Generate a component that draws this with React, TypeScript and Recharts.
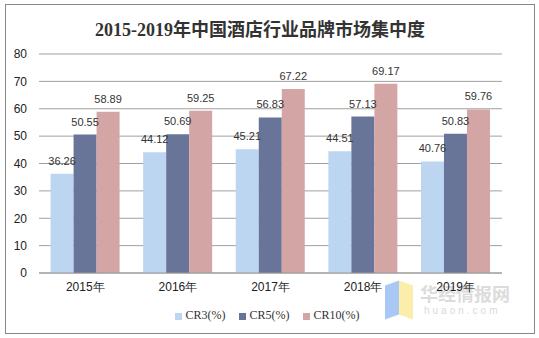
import React from "react";
import {
    BarChart,
    Bar,
    XAxis,
    YAxis,
    CartesianGrid,
    Legend,
    LabelList,
} from "recharts";

const years = ["2015年", "2016年", "2017年", "2018年", "2019年"];
const cr3 = [36.26, 44.12, 45.21, 44.51, 40.76];
const cr5 = [50.55, 50.69, 56.83, 57.13, 50.83];
const cr10 = [58.89, 59.25, 67.22, 69.17, 59.76];
const yTicks = [0, 10, 20, 30, 40, 50, 60, 70, 80];
const boundaryTicks = [0, 1, 2, 3, 4, 5];
const seriesOrder = ["cr3", "cr5", "cr10"];

const data = years.map((year, i) => ({
    year,
    cr3: cr3[i],
    cr5: cr5[i],
    cr10: cr10[i],
}));

const labelStyle = { fontSize: 11, fill: "#333", fontFamily: "'Liberation Sans', Arial, sans-serif" };

export default function App() {
    return (
        <div
            style={{
                position: "absolute",
                left: 0,
                top: 0,
                width: 539,
                height: 338,
                background: "#fff",
                fontFamily: "'Liberation Sans', Arial, sans-serif",
            }}
        >
            <div
                style={{
                    position: "absolute",
                    left: 5,
                    top: 4,
                    width: 528,
                    height: 328,
                    border: "1.5px solid #888",
                }}
            />
            <div
                style={{
                    position: "absolute",
                    left: 0,
                    width: 520,
                    top: 15,
                    textAlign: "center",
                    fontSize: 18,
                    fontWeight: "bold",
                    color: "#333",
                    fontFamily: "'Liberation Serif', 'Noto Sans CJK SC', serif",
                }}
            >
                2015-2019年中国酒店行业品牌市场集中度
            </div>

            {/* watermark */}
            <div style={{ position: "absolute", left: 385, top: 283, width: 14, height: 34, background: "#a9c8f5", transform: "skewY(-20deg)" }} />
            <div style={{ position: "absolute", left: 399, top: 283, width: 14, height: 34, background: "#fbeeaa", transform: "skewY(20deg)" }} />
            <div
                style={{
                    position: "absolute",
                    left: 420,
                    top: 284,
                    fontSize: 18,
                    lineHeight: 1,
                    fontWeight: "bold",
                    color: "#dcdcdc",
                    fontFamily: "'Noto Sans CJK SC', sans-serif",
                }}
            >
                华经情报网
            </div>
            <div
                style={{
                    position: "absolute",
                    left: 424,
                    top: 306,
                    fontSize: 10,
                    lineHeight: 1,
                    letterSpacing: 3,
                    color: "#d9d9d9",
                }}
            >
                huaon.com
            </div>

            <div style={{ position: "absolute", left: 0, top: 0 }}>
                <BarChart
                    width={539}
                    height={338}
                    data={data}
                    margin={{ top: 54, right: 37, bottom: 0, left: 0 }}
                    barCategoryGap="12.5%"
                    barGap={0}
                >
                    <CartesianGrid vertical={false} stroke="#a0a0a0" xAxisId="b_cat" />
                    <XAxis
                        xAxisId="a_edge"
                        type="number"
                        domain={[0, 5]}
                        ticks={boundaryTicks}
                        tick={false}
                        height={5}
                        tickSize={5}
                        axisLine={{ stroke: "#999" }}
                        tickLine={{ stroke: "#999" }}
                    />
                    <XAxis
                        xAxisId="b_cat"
                        dataKey="year"
                        axisLine={false}
                        tickLine={false}
                        height={45}
                        tickMargin={0}
                        tick={{ fontSize: 12, fill: "#222", dy: -2 }}
                    />
                    <YAxis
                        width={39}
                        domain={[0, 80]}
                        ticks={yTicks}
                        axisLine={false}
                        tickLine={false}
                        tick={{ fontSize: 12, fill: "#222", dx: -4 }}
                    />
                    <Legend
                        verticalAlign="bottom"
                        iconType="square"
                        iconSize={7}
                        itemSorter={(item: any) => seriesOrder.indexOf(item.dataKey)}
                        wrapperStyle={{
                            top: 308,
                            left: 4,
                            width: 539,
                            fontSize: 12,
                            fontFamily: "'Liberation Serif', 'Noto Sans CJK SC', serif",
                        }}
                        formatter={(value) => <span style={{ color: "#333", marginRight: 3 }}>{value}</span>}
                    />
                    <Bar xAxisId="b_cat" dataKey="cr3" name="CR3(%)" fill="#bcd5f0" isAnimationActive={false}>
                        <LabelList dataKey="cr3" position="top" offset={9} style={labelStyle} />
                    </Bar>
                    <Bar xAxisId="b_cat" dataKey="cr5" name="CR5(%)" fill="#687599" isAnimationActive={false}>
                        <LabelList dataKey="cr5" position="top" offset={9} style={labelStyle} />
                    </Bar>
                    <Bar xAxisId="b_cat" dataKey="cr10" name="CR10(%)" fill="#d4a5a5" isAnimationActive={false}>
                        <LabelList dataKey="cr10" position="top" offset={9} style={labelStyle} />
                    </Bar>
                </BarChart>
            </div>
        </div>
    );
}
